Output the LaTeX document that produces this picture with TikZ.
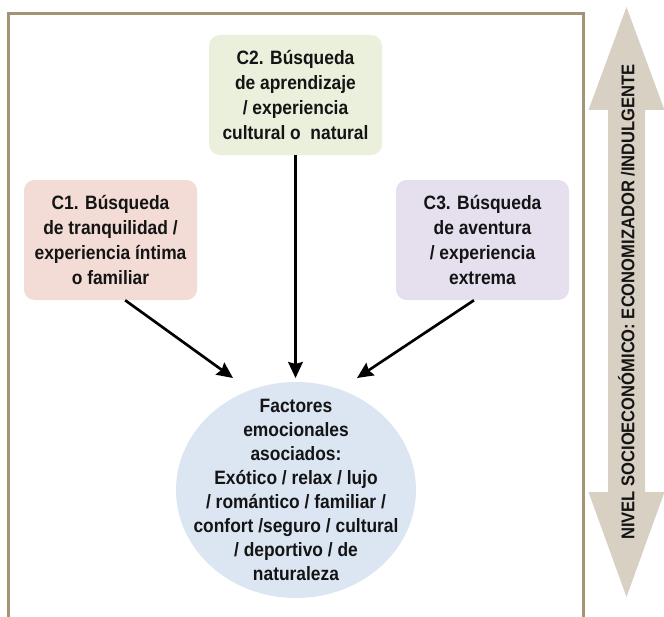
\documentclass[tikz,border=0pt]{standalone}
\usepackage{fontspec}
\setmainfont{Liberation Sans}[FakeStretch=0.9]
\usepackage{tikz}
\usetikzlibrary{arrows.meta,positioning,shapes.geometric}
\definecolor{framec}{HTML}{A39478}
\definecolor{bandc}{HTML}{D9D0C4}
\definecolor{tranqc}{HTML}{F2DCD5}
\definecolor{aprenc}{HTML}{EBF0DC}
\definecolor{aventc}{HTML}{E5DFEE}
\definecolor{factc}{HTML}{DBE6F2}

\begin{document}
\begin{tikzpicture}[x=0.75pt,y=-0.75pt,
  txt/.style={font=\bfseries\fontsize{14.5pt}{18.75pt}\selectfont, align=center, text=black!92},
  motivo/.style={txt, rounded corners=8pt, minimum width=129.75pt, minimum height=90pt, inner sep=0pt},
  arr/.style={-{Stealth[length=12pt,width=11pt,inset=1.5pt]}, line width=2pt}]
  \useasboundingbox (0,0) rectangle (664,617);
  % Frame (open at the bottom)
  \draw[framec, line width=2pt] (8.5,617) -- (8.5,13.3) -- (583.5,13.3) -- (583.5,617);
  % Motivations
  \node[motivo, fill=aprenc] (c2) at (295.5,95) {C2. Búsqueda\\de aprendizaje\\/ experiencia\\cultural o\ \ natural};
  \node[motivo, fill=tranqc] (c1) at (110.5,240) {C1. Búsqueda\\de tranquilidad /\\experiencia íntima\\o familiar};
  \node[motivo, fill=aventc] (c3) at (482.5,240) {C3. Búsqueda\\de aventura\\/ experiencia\\extrema};
  % Emotional factors
  \node[txt, ellipse, fill=factc, minimum width=180pt, minimum height=162pt,
    inner xsep=-20pt, inner ysep=-20pt,
    font=\bfseries\fontsize{14.5pt}{18pt}\selectfont] (fac) at (296,490)
    {Factores\\emocionales\\asociados:\\Exótico / relax / lujo\\/ romántico / familiar /\\confort /seguro / cultural\\/ deportivo / de\\naturaleza};
  % Arrow tips
  \coordinate (t1) at (233,378);
  \coordinate (t2) at (295.5,378);
  \coordinate (t3) at (357,378);
  \draw[arr] ([xshift=11pt]c1.south) -- (t1);
  \draw[arr] (c2.south) -- (t2);
  \draw[arr] ([xshift=-6.4pt]c3.south) -- (t3);
  % Socio-economic band
  \fill[bandc] (626.5,7) -- (664.5,110) -- (645,110) -- (645,492) -- (664.5,492) -- (626.5,597)
    -- (588.5,492) -- (608,492) -- (608,110) -- (588.5,110) -- cycle;
  \node[txt, rotate=90, font=\bfseries\fontsize{13.8pt}{16pt}\selectfont] (nivel) at (626.5,302)
    {NIVEL SOCIOECONÓMICO: ECONOMIZADOR /INDULGENTE};
\end{tikzpicture}
\end{document}
